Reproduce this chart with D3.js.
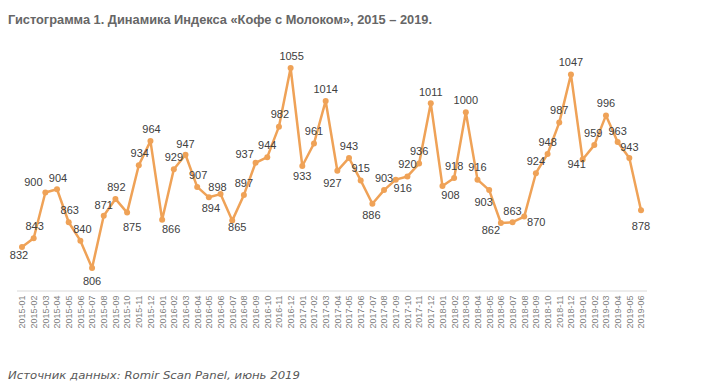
<!DOCTYPE html>
<html>
<head>
<meta charset="utf-8">
<script src="https://cdn.jsdelivr.net/npm/d3@7"></script>
<style>
  html, body { margin: 0; padding: 0; background: #ffffff; }
  svg { display: block; }
</style>
</head>
<body>
<svg id="chart" width="713" height="391"></svg>
<script>
// ---- data ----
const titleText = "Гистограмма 1. Динамика Индекса «Кофе с Молоком», 2015 – 2019.";
const sourceText = "Источник данных: Romir Scan Panel, июнь 2019";

const months = [
  "2015-01","2015-02","2015-03","2015-04","2015-05","2015-06","2015-07","2015-08","2015-09","2015-10","2015-11","2015-12",
  "2016-01","2016-02","2016-03","2016-04","2016-05","2016-06","2016-07","2016-08","2016-09","2016-10","2016-11","2016-12",
  "2017-01","2017-02","2017-03","2017-04","2017-05","2017-06","2017-07","2017-08","2017-09","2017-10","2017-11","2017-12",
  "2018-01","2018-02","2018-03","2018-04","2018-05","2018-06","2018-07","2018-08","2018-09","2018-10","2018-11","2018-12",
  "2019-01","2019-02","2019-03","2019-04","2019-05","2019-06"
];

const indexValues = [
  832, 843, 900, 904, 863, 840, 806, 871, 892, 875, 934, 964,
  866, 929, 947, 907, 894, 898, 865, 897, 937, 944, 982, 1055,
  933, 961, 1014, 927, 943, 915, 886, 903, 916, 920, 936, 1011,
  908, 918, 1000, 916, 903, 862, 863, 870, 924, 948, 987, 1047,
  941, 959, 996, 963, 943, 878
];

// label nudges relative to each point (label centre), kept apart from data
const labelNudge = [
  [-3, 8], [1, -12], [-12, -10], [1, -11], [1, -12], [2, -12], [0, 13], [0, -11], [1, -12], [5, 15], [1, -12], [1, -12],
  [9, 9], [0, -12], [0, -11], [1, -12], [2, 11], [-3, -7], [5, 7], [0, -12], [-11, -9], [0, -12], [1, -12], [1, -12],
  [0, 10.5], [0, -12], [0, -12], [-5, 12], [0, -12], [0, -12], [-1, 11], [0, -12], [7, 9], [0, -12], [0, -12], [0, -11],
  [8, 9.5], [0, -12], [0, -12], [0, -12], [-5.5, 12], [-10, 7.5], [0, -11], [12, 6], [0, -12], [0, -12], [0, -12], [0, -12],
  [-6, 5], [-1, -12], [0, -12], [0, -11], [0, -11], [0, 16]
];

// ---- chart ----
const svg = d3.select("#chart");
const lineColor = "#EFA257";

const data = months.map((m, i) => ({ m, v: indexValues[i], n: labelNudge[i] }));

const x = d3.scalePoint().domain(months).range([16.5, 646.5]).padding(0.47);
const y = d3.scaleLinear().domain(d3.extent(indexValues)).range([268, 68]);

// title
svg.append("text")
  .attr("x", 8).attr("y", 24)
  .attr("font-family", "Liberation Sans, Arial, sans-serif")
  .attr("font-weight", "bold")
  .attr("font-size", 12)
  .attr("fill", "#666666")
  .attr("textLength", 424)
  .attr("lengthAdjust", "spacingAndGlyphs")
  .text(titleText);

// x axis
const axisY = 290.5;
const gx = svg.append("g")
  .attr("transform", `translate(0,${axisY})`)
  .call(d3.axisBottom(x).tickSize(0).tickSizeOuter(0));
gx.select(".domain").attr("stroke", "#d9d9d9").attr("stroke-width", 1);
gx.selectAll(".tick text")
  .attr("transform", "rotate(-90)")
  .attr("x", -5)
  .attr("y", 0)
  .attr("dy", "0.32em")
  .attr("text-anchor", "end")
  .attr("font-family", "Liberation Sans, Arial, sans-serif")
  .attr("font-size", 9)
  .attr("fill", "#7f7f7f");

// line
const line = d3.line().x(d => x(d.m)).y(d => y(d.v));
svg.append("path")
  .datum(data)
  .attr("d", line)
  .attr("fill", "none")
  .attr("stroke", lineColor)
  .attr("stroke-width", 2.5)
  .attr("stroke-linejoin", "round");

// markers
svg.append("g").selectAll("circle")
  .data(data)
  .join("circle")
  .attr("cx", d => x(d.m))
  .attr("cy", d => y(d.v))
  .attr("r", 3)
  .attr("fill", lineColor);

// data labels
svg.append("g").selectAll("text")
  .data(data)
  .join("text")
  .attr("x", d => x(d.m) + d.n[0])
  .attr("y", d => y(d.v) + d.n[1])
  .attr("dy", "0.35em")
  .attr("text-anchor", "middle")
  .attr("font-family", "Liberation Sans, Arial, sans-serif")
  .attr("font-size", 11)
  .attr("fill", "#404040")
  .text(d => d.v);

// source note
svg.append("text")
  .attr("x", 8).attr("y", 379)
  .attr("font-family", "DejaVu Sans, Verdana, sans-serif")
  .attr("font-style", "italic")
  .attr("font-size", 11)
  .attr("fill", "#595959")
  .attr("textLength", 292)
  .attr("lengthAdjust", "spacingAndGlyphs")
  .text(sourceText);
</script>
</body>
</html>
